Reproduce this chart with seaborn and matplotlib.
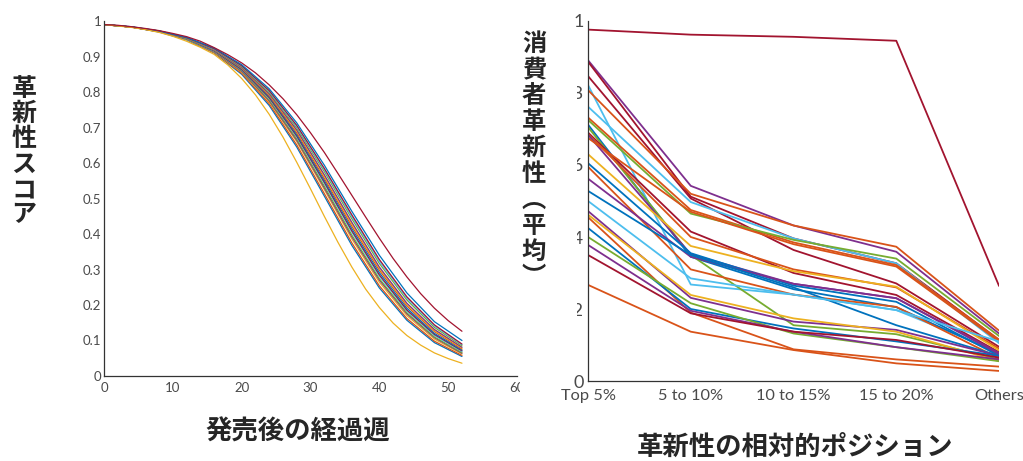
import matplotlib
matplotlib.use("Agg")
import matplotlib.pyplot as plt
import pandas as pd
import seaborn as sns
from matplotlib.patches import Rectangle

# left panel: innovativeness score by weeks since launch
WEEKS = [0, 4, 8, 12, 16, 20, 24, 28, 32, 36, 40, 44, 48, 52]
BAND_CURVES = [
    [0.990, 0.983, 0.969, 0.947, 0.910, 0.850, 0.762, 0.645, 0.507, 0.368, 0.248, 0.157, 0.094, 0.055],
    [0.990, 0.983, 0.970, 0.948, 0.911, 0.853, 0.767, 0.651, 0.514, 0.375, 0.254, 0.162, 0.098, 0.058],
    [0.990, 0.983, 0.970, 0.948, 0.912, 0.856, 0.772, 0.660, 0.525, 0.386, 0.264, 0.170, 0.104, 0.062],
    [0.990, 0.983, 0.970, 0.949, 0.913, 0.858, 0.775, 0.664, 0.530, 0.392, 0.270, 0.175, 0.108, 0.064],
    [0.990, 0.983, 0.970, 0.949, 0.914, 0.860, 0.778, 0.668, 0.535, 0.397, 0.274, 0.178, 0.110, 0.066],
    [0.990, 0.983, 0.970, 0.949, 0.915, 0.862, 0.782, 0.673, 0.542, 0.405, 0.281, 0.183, 0.114, 0.069],
    [0.990, 0.983, 0.970, 0.950, 0.916, 0.863, 0.784, 0.676, 0.546, 0.409, 0.285, 0.186, 0.117, 0.071],
    [0.990, 0.983, 0.971, 0.950, 0.917, 0.865, 0.787, 0.680, 0.551, 0.415, 0.291, 0.191, 0.120, 0.073],
    [0.990, 0.983, 0.971, 0.951, 0.918, 0.867, 0.790, 0.685, 0.557, 0.422, 0.298, 0.197, 0.125, 0.076],
    [0.990, 0.983, 0.971, 0.951, 0.919, 0.868, 0.793, 0.690, 0.563, 0.428, 0.303, 0.201, 0.128, 0.079],
    [0.990, 0.983, 0.971, 0.952, 0.919, 0.869, 0.795, 0.693, 0.567, 0.433, 0.307, 0.205, 0.131, 0.081],
    [0.990, 0.983, 0.972, 0.952, 0.920, 0.871, 0.799, 0.699, 0.576, 0.443, 0.317, 0.214, 0.137, 0.085],
    [0.990, 0.983, 0.972, 0.953, 0.921, 0.873, 0.802, 0.703, 0.581, 0.449, 0.323, 0.219, 0.141, 0.088],
    [0.990, 0.983, 0.972, 0.953, 0.922, 0.874, 0.804, 0.706, 0.585, 0.454, 0.328, 0.223, 0.144, 0.090],
    [0.990, 0.984, 0.972, 0.954, 0.924, 0.877, 0.809, 0.713, 0.594, 0.464, 0.340, 0.234, 0.153, 0.100],
]
FINE_WEEKS = list(range(0, 53, 2))
SLOWEST_CURVE = [0.990, 0.988, 0.984, 0.979, 0.973, 0.965, 0.956, 0.943, 0.925, 0.905, 0.882,
                 0.854, 0.820, 0.781, 0.736, 0.685, 0.630, 0.570, 0.509, 0.448, 0.388, 0.331,
                 0.279, 0.232, 0.191, 0.156, 0.126]
FASTEST_CURVE = [0.990, 0.986, 0.982, 0.976, 0.968, 0.957, 0.943, 0.926, 0.906, 0.876, 0.838,
                 0.792, 0.737, 0.673, 0.602, 0.527, 0.450, 0.376, 0.307, 0.245, 0.193, 0.149,
                 0.114, 0.087, 0.065, 0.049, 0.036]

# right panel: mean consumer innovativeness by relative position
POSITIONS = ["Top 5%", "5 to 10%", "10 to 15%", "15 to 20%", "Others"]
CONSUMER_SCORES = [
    [0.976, 0.962, 0.956, 0.945, 0.264],
    [0.891, 0.542, 0.432, 0.359, 0.132],
    [0.887, 0.512, 0.396, 0.327, 0.114],
    [0.847, 0.507, 0.364, 0.271, 0.095],
    [0.822, 0.268, 0.240, 0.197, 0.081],
    [0.808, 0.520, 0.432, 0.373, 0.140],
    [0.762, 0.497, 0.396, 0.327, 0.105],
    [0.732, 0.475, 0.385, 0.322, 0.115],
    [0.725, 0.465, 0.392, 0.340, 0.125],
    [0.712, 0.345, 0.255, 0.205, 0.075],
    [0.705, 0.350, 0.155, 0.130, 0.060],
    [0.690, 0.415, 0.300, 0.239, 0.080],
    [0.686, 0.400, 0.310, 0.260, 0.090],
    [0.684, 0.352, 0.270, 0.230, 0.078],
    [0.675, 0.470, 0.380, 0.318, 0.110],
    [0.630, 0.375, 0.305, 0.262, 0.085],
    [0.605, 0.355, 0.265, 0.220, 0.070],
    [0.595, 0.310, 0.240, 0.206, 0.063],
    [0.562, 0.345, 0.270, 0.230, 0.075],
    [0.528, 0.350, 0.260, 0.155, 0.070],
    [0.500, 0.285, 0.240, 0.197, 0.110],
    [0.472, 0.231, 0.165, 0.142, 0.070],
    [0.462, 0.239, 0.174, 0.137, 0.055],
    [0.455, 0.190, 0.088, 0.060, 0.040],
    [0.425, 0.200, 0.146, 0.110, 0.070],
    [0.400, 0.216, 0.132, 0.094, 0.055],
    [0.378, 0.195, 0.137, 0.094, 0.060],
    [0.350, 0.188, 0.137, 0.114, 0.065],
    [0.267, 0.137, 0.086, 0.049, 0.028],
]
CONSUMER_COLORS = [
    "darkred", "purple", "darkred", "darkred", "lightblue", "orange", "lightblue",
    "orange", "green", "blue", "green", "darkred", "orange", "purple", "orange",
    "yellow", "blue", "orange", "purple", "blue", "lightblue", "purple", "yellow",
    "orange", "blue", "green", "purple", "darkred", "orange",
]

MATLAB = {
    "blue": "#0072BD", "orange": "#D95319", "yellow": "#EDB120", "purple": "#7E2F8E",
    "green": "#77AC30", "lightblue": "#4DBEEE", "darkred": "#A2142F",
}
CYCLE = list(MATLAB.values())

sns.set_theme(style="white")
plt.rcParams["font.family"] = ["Lato", "DejaVu Sans"]
JP = ["Noto Sans CJK JP", "DejaVu Sans"]

fig = plt.figure(figsize=(10.23, 4.61), dpi=100)
ax1 = fig.add_axes([0.1017, 0.1844, 0.4037, 0.770])
ax2 = fig.add_axes([0.5748, 0.1735, 0.4018, 0.781])

rows = [(i, w, v) for i, curve in enumerate(BAND_CURVES) for w, v in zip(WEEKS, curve)]
n = len(BAND_CURVES)
rows += [(n, w, v) for w, v in zip(FINE_WEEKS, FASTEST_CURVE)]
rows += [(n + 1, w, v) for w, v in zip(FINE_WEEKS, SLOWEST_CURVE)]
left_df = pd.DataFrame(rows, columns=["curve", "week", "score"])
left_pal = {i: CYCLE[i % 7] for i in range(n)}
left_pal[n] = MATLAB["yellow"]
left_pal[n + 1] = MATLAB["darkred"]
sns.lineplot(data=left_df, x="week", y="score", hue="curve", palette=left_pal,
             estimator=None, sort=False, legend=False, lw=0.9, ax=ax1)

right_df = pd.DataFrame(
    [(i, p, v) for i, row in enumerate(CONSUMER_SCORES) for p, v in zip(POSITIONS, row)],
    columns=["line", "position", "score"],
)
right_pal = {i: MATLAB[c] for i, c in enumerate(CONSUMER_COLORS)}
sns.lineplot(data=right_df, x="position", y="score", hue="line", palette=right_pal,
             estimator=None, sort=False, legend=False, lw=1.3, ax=ax2)

tick_color = "#4a4a4a"
for ax in (ax1, ax2):
    sns.despine(ax=ax)
    for side in ("left", "bottom"):
        ax.spines[side].set_color("#333333")
        ax.spines[side].set_linewidth(0.9)
    ax.set_xlabel("")
    ax.set_ylabel("")
    ax.set_ylim(0, 1)
    ax.tick_params(direction="in", length=4, width=0.8, color="#333333",
                   labelcolor=tick_color)

ax1.set_xlim(0, 60)
ax1.set_xticks(range(0, 61, 10))
ax1.set_yticks([i / 10 for i in range(11)],
               ["0"] + [f"0.{i}" for i in range(1, 10)] + ["1"])
ax1.tick_params(axis="y", pad=2, labelsize=9.5)
ax1.tick_params(axis="x", pad=4, labelsize=9.5)

ax2.set_xlim(0, 4)
ax2.set_yticks([0, 0.2, 0.4, 0.6, 0.8, 1.0], ["0", "0.2", "0.4", "0.6", "0.8", "1"])
ax2.tick_params(axis="y", pad=3, labelsize=13)
ax2.tick_params(axis="x", pad=6, labelsize=11.8)

# white pane of the second figure covering the overlap
W, H = 1023, 461
for x0, x1, ytop, ybot in [(520, 577, 30, 372), (520, 556, 372, 405)]:
    fig.add_artist(Rectangle((x0 / W, 1 - ybot / H), (x1 - x0) / W, (ybot - ytop) / H,
                             transform=fig.transFigure, facecolor="white",
                             edgecolor="none", zorder=5))

fig.text(24 / W, 1 - 152 / H, "\n".join("革新性スコア"), family=JP, fontweight="bold",
         fontsize=18, ha="center", va="center", linespacing=1.07, zorder=6)
fig.text(534 / W, 1 - 161 / H, "\n".join("消費者革新性︵平均︶"), family=JP,
         fontweight="bold", fontsize=17.5, ha="center", va="center", linespacing=1.1, zorder=6)
fig.text(298 / W, 1 - 432 / H, "発売後の経過週", family=JP, fontweight="bold",
         fontsize=19, ha="center", va="center", zorder=6)
fig.text(795 / W, 1 - 447 / H, "革新性の相対的ポジション", family=JP, fontweight="bold",
         fontsize=19, ha="center", va="center", zorder=6)

fig.savefig("out.png", dpi=100)
